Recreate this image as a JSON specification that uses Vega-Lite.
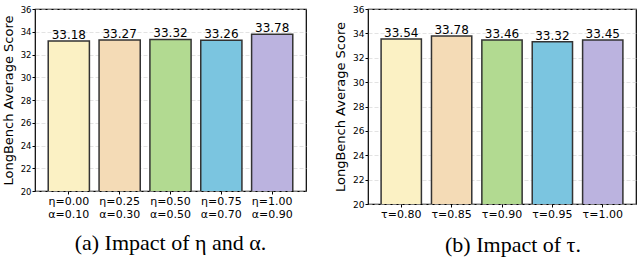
{
  "$schema": "https://vega.github.io/schema/vega-lite/v6.json",
  "padding": {"left": 1, "top": 4, "right": 0, "bottom": 0},
  "spacing": 26,
  "config": {
    "font": "DejaVu Sans",
    "view": {"stroke": "#000000", "strokeWidth": 1.2},
    "axis": {"labelColor": "#000", "titleColor": "#000", "titleFontWeight": "normal", "tickColor": "#000", "domain": false},
    "title": {"font": "Liberation Serif", "fontWeight": "normal", "color": "#000"}
  },
  "hconcat": [
    {
      "width": 271,
      "height": 182,
      "title": {"text": "(a) Impact of η and α.", "orient": "bottom", "anchor": "middle", "fontSize": 22, "offset": 14},
      "data": {"values": [
        {"k": "η=0.00|α=0.10", "v": 33.18, "c": "c1"},
        {"k": "η=0.25|α=0.30", "v": 33.27, "c": "c2"},
        {"k": "η=0.50|α=0.50", "v": 33.32, "c": "c3"},
        {"k": "η=0.75|α=0.70", "v": 33.26, "c": "c4"},
        {"k": "η=1.00|α=0.90", "v": 33.78, "c": "c5"}
      ]},
      "encoding": {
        "x": {"field": "k", "type": "nominal", "sort": null,
          "scale": {"paddingInner": 0.19, "paddingOuter": 0.26},
          "axis": {"title": null, "labelAngle": 0, "labelFontSize": 11, "labelExpr": "split(datum.label, '|')", "labelLineHeight": 13, "tickSize": 3, "labelPadding": 1, "grid": false}},
        "y": {"field": "v", "type": "quantitative",
          "scale": {"domain": [20, 36], "nice": false, "zero": false},
          "axis": {"title": "LongBench Average Score", "titleFontSize": 13, "values": [20,22,24,26,28,30,32,34,36], "labelFontSize": 8.5, "tickSize": 3, "labelPadding": 1, "titlePadding": 5, "grid": true, "gridColor": "#d0d0d0", "gridDash": [4, 2], "gridWidth": 0.6}}
      },
      "layer": [
        {"mark": {"type": "bar", "stroke": "#333333", "strokeWidth": 1.5, "clip": true},
         "encoding": {"color": {"field": "c", "type": "nominal", "legend": null,
           "scale": {"domain": ["c1","c2","c3","c4","c5"], "range": ["#FBF1C4", "#F4DBB6", "#B2DA91", "#7BC5E0", "#BBB3DF"]}}}},
        {"mark": {"type": "text", "baseline": "alphabetic", "dy": -2, "fontSize": 12, "color": "#000"},
         "encoding": {"text": {"field": "v", "type": "quantitative", "format": ".2f"}}}
      ]
    },
    {
      "width": 268,
      "height": 195,
      "title": {"text": "(b) Impact of τ.", "orient": "bottom", "anchor": "middle", "fontSize": 22, "offset": 16, "dx": 11},
      "data": {"values": [
        {"k": "τ=0.80", "v": 33.54, "c": "c1"},
        {"k": "τ=0.85", "v": 33.78, "c": "c2"},
        {"k": "τ=0.90", "v": 33.46, "c": "c3"},
        {"k": "τ=0.95", "v": 33.32, "c": "c4"},
        {"k": "τ=1.00", "v": 33.45, "c": "c5"}
      ]},
      "encoding": {
        "x": {"field": "k", "type": "nominal", "sort": null,
          "scale": {"paddingInner": 0.2, "paddingOuter": 0.26},
          "axis": {"title": null, "labelAngle": 0, "labelFontSize": 11, "tickSize": 3, "labelPadding": 1, "grid": false}},
        "y": {"field": "v", "type": "quantitative",
          "scale": {"domain": [20, 36], "nice": false, "zero": false},
          "axis": {"title": "LongBench Average Score", "titleFontSize": 13, "values": [20,22,24,26,28,30,32,34,36], "labelFontSize": 9, "tickSize": 3, "labelPadding": 1, "titlePadding": 5, "grid": true, "gridColor": "#d0d0d0", "gridDash": [4, 2], "gridWidth": 0.6}}
      },
      "layer": [
        {"mark": {"type": "bar", "stroke": "#333333", "strokeWidth": 1.5, "clip": true},
         "encoding": {"color": {"field": "c", "type": "nominal", "legend": null,
           "scale": {"domain": ["c1","c2","c3","c4","c5"], "range": ["#FBF1C4", "#F4DBB6", "#B2DA91", "#7BC5E0", "#BBB3DF"]}}}},
        {"mark": {"type": "text", "baseline": "alphabetic", "dy": -2, "fontSize": 12, "color": "#000"},
         "encoding": {"text": {"field": "v", "type": "quantitative", "format": ".2f"}}}
      ]
    }
  ]
}
